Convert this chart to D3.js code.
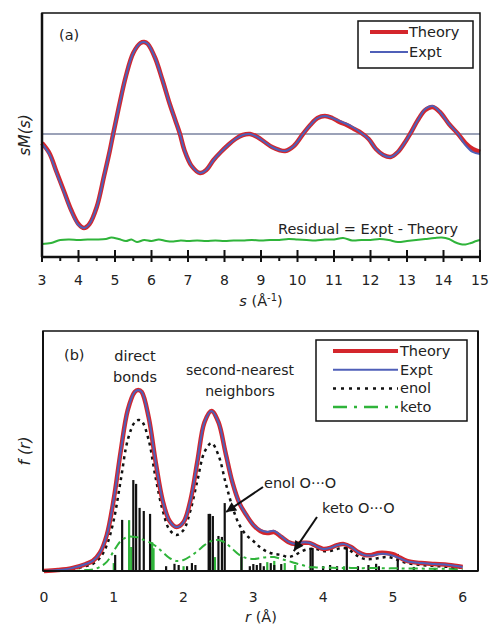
<!DOCTYPE html>
<html>
<head>
<meta charset="utf-8">
<script src="https://cdn.jsdelivr.net/npm/d3@7"></script>
<style>
  body { margin: 0; background: #fff; }
  text { font-family: "DejaVu Sans", sans-serif; fill: #222; }
</style>
</head>
<body>
<script>
// ---- panel (a): sM(s) ----
var sVals = [3.0,3.2,3.4,3.6,3.8,4.0,4.15,4.3,4.5,4.7,4.85,4.95,5.1,5.3,5.5,5.7,5.8,5.9,6.1,6.3,6.5,6.65,6.78,6.9,7.1,7.33,7.5,7.7,7.9,8.1,8.3,8.5,8.7,8.9,9.1,9.3,9.5,9.66,9.9,10.15,10.35,10.55,10.75,10.95,11.15,11.35,11.55,11.75,11.95,12.15,12.35,12.55,12.75,12.95,13.1,13.3,13.5,13.7,13.9,14.15,14.4,14.6,14.8,15.0];
var theoryA = [-0.09,-0.19,-0.38,-0.57,-0.76,-0.90,-0.94,-0.90,-0.73,-0.42,-0.18,0.00,0.26,0.58,0.81,0.91,0.92,0.90,0.76,0.54,0.30,0.14,0.00,-0.16,-0.32,-0.39,-0.36,-0.26,-0.18,-0.11,-0.05,-0.01,0.00,-0.03,-0.08,-0.13,-0.16,-0.17,-0.12,0.00,0.09,0.16,0.18,0.16,0.12,0.09,0.05,0.01,-0.05,-0.15,-0.21,-0.23,-0.18,-0.08,0.01,0.14,0.24,0.27,0.22,0.10,0.00,-0.09,-0.15,-0.18];
var exptA   = [-0.10,-0.20,-0.39,-0.58,-0.77,-0.91,-0.94,-0.90,-0.73,-0.42,-0.18,0.00,0.26,0.58,0.81,0.91,0.92,0.90,0.76,0.54,0.30,0.14,0.00,-0.16,-0.32,-0.39,-0.36,-0.26,-0.18,-0.11,-0.05,-0.01,0.00,-0.03,-0.08,-0.13,-0.16,-0.17,-0.12,0.00,0.09,0.16,0.18,0.16,0.13,0.10,0.06,0.01,-0.05,-0.15,-0.21,-0.23,-0.18,-0.08,0.01,0.14,0.25,0.28,0.22,0.10,0.00,-0.11,-0.18,-0.20];
var residS = [3.0,3.25,3.5,3.75,4.0,4.25,4.5,4.75,4.9,5.1,5.3,5.45,5.6,5.8,6.0,6.2,6.4,6.6,6.8,7.0,7.25,7.5,7.75,8.0,8.25,8.5,8.75,9.0,9.25,9.5,9.75,10.0,10.25,10.5,10.75,11.0,11.25,11.5,11.75,12.0,12.25,12.5,12.75,13.0,13.25,13.5,13.75,13.95,14.15,14.3,14.45,14.6,14.75,14.9,15.0];
var residA = [-1.10,-1.09,-1.06,-1.055,-1.06,-1.055,-1.055,-1.05,-1.035,-1.05,-1.07,-1.055,-1.08,-1.06,-1.07,-1.055,-1.07,-1.075,-1.065,-1.07,-1.065,-1.07,-1.065,-1.07,-1.065,-1.065,-1.06,-1.065,-1.06,-1.06,-1.05,-1.055,-1.06,-1.065,-1.055,-1.055,-1.04,-1.065,-1.06,-1.06,-1.05,-1.06,-1.08,-1.07,-1.06,-1.05,-1.04,-1.035,-1.05,-1.08,-1.10,-1.105,-1.09,-1.07,-1.06];
var sTicks = [3,4,5,6,7,8,9,10,11,12,13,14,15];

// ---- panel (b): f(r) ----
var rVals = [0.0,0.2,0.4,0.6,0.7,0.8,0.9,1.0,1.1,1.2,1.3,1.35,1.4,1.5,1.6,1.7,1.8,1.9,2.0,2.1,2.2,2.3,2.4,2.5,2.6,2.7,2.8,2.9,3.0,3.1,3.2,3.3,3.4,3.5,3.6,3.7,3.8,3.9,4.0,4.1,4.2,4.3,4.4,4.5,4.6,4.7,4.8,4.9,5.0,5.1,5.2,5.4,5.6,5.8,6.0];
var theoryB = [0,0.004,0.012,0.029,0.042,0.075,0.15,0.30,0.50,0.67,0.746,0.754,0.746,0.64,0.455,0.295,0.208,0.183,0.204,0.296,0.46,0.62,0.667,0.62,0.495,0.37,0.283,0.233,0.192,0.167,0.158,0.162,0.142,0.121,0.112,0.117,0.117,0.104,0.092,0.096,0.108,0.112,0.10,0.079,0.067,0.067,0.075,0.075,0.070,0.056,0.042,0.033,0.029,0.025,0.017];
var exptB   = [0,0.004,0.012,0.029,0.042,0.075,0.15,0.30,0.50,0.67,0.746,0.754,0.746,0.64,0.455,0.295,0.208,0.183,0.204,0.296,0.46,0.62,0.667,0.62,0.495,0.37,0.283,0.233,0.192,0.170,0.163,0.167,0.145,0.122,0.113,0.119,0.118,0.104,0.092,0.096,0.107,0.112,0.10,0.079,0.066,0.065,0.071,0.071,0.064,0.053,0.041,0.033,0.029,0.025,0.017];
var enolB   = [0,0.002,0.008,0.021,0.03,0.054,0.108,0.213,0.379,0.546,0.62,0.629,0.625,0.546,0.388,0.254,0.171,0.15,0.171,0.254,0.379,0.496,0.533,0.483,0.371,0.267,0.192,0.15,0.125,0.098,0.08,0.071,0.067,0.058,0.067,0.083,0.092,0.092,0.083,0.083,0.092,0.096,0.083,0.062,0.05,0.05,0.054,0.058,0.054,0.042,0.033,0.025,0.021,0.017,0.013];
var ketoB   = [0,0,0,0.004,0.006,0.017,0.038,0.083,0.125,0.142,0.142,0.140,0.133,0.121,0.104,0.079,0.054,0.042,0.046,0.062,0.083,0.108,0.125,0.129,0.117,0.092,0.067,0.054,0.05,0.054,0.058,0.058,0.05,0.042,0.033,0.025,0.017,0.015,0.015,0.014,0.013,0.013,0.013,0.012,0.012,0.012,0.012,0.011,0.011,0.011,0.01,0.01,0.009,0.009,0.008];
var enolStickR = [1.02,1.12,1.28,1.32,1.37,1.43,1.52,1.75,1.87,1.93,2.05,2.12,2.17,2.36,2.38,2.42,2.50,2.55,2.59,2.83,2.95,3.00,3.05,3.10,3.15,3.25,3.30,3.40,3.82,3.85,4.00,4.10,4.20,4.34,4.50,4.65,4.76,4.80,5.07,5.30,5.60];
var enolStickF = [0.067,0.213,0.379,0.363,0.263,0.25,0.238,0.02,0.03,0.025,0.02,0.033,0.025,0.238,0.238,0.229,0.146,0.142,0.283,0.167,0.02,0.029,0.025,0.033,0.02,0.033,0.025,0.029,0.096,0.096,0.02,0.025,0.02,0.108,0.02,0.025,0.03,0.02,0.071,0.017,0.013];
var ketoStickR = [1.00,1.22,1.25,1.55,1.57,2.00,2.38,2.45,2.83,3.20,3.30,3.45,3.60,4.30];
var ketoStickF = [0.033,0.212,0.10,0.12,0.095,0.02,0.10,0.058,0.058,0.037,0.042,0.033,0.025,0.02];
var rTicks = [0,1,2,3,4,5,6];

var W = 490, H = 625;
var svg = d3.select("body").append("svg").attr("width", W).attr("height", H);

var red = "#d4262c", blue = "#4f5fb8", green = "#2fb43a";
var fs = 14.5;

// ===== panel (a) =====
var xA = d3.scaleLinear().domain([3, 15]).range([42, 480]);
var yA = d3.scaleLinear().domain([-1.23, 1.21]).range([257, 13]);

var lineA = d3.line().x(function(d){ return xA(d[0]); }).y(function(d){ return yA(d[1]); }).curve(d3.curveCatmullRom);

svg.append("line")
   .attr("x1", xA(3)).attr("x2", xA(15))
   .attr("y1", yA(0)).attr("y2", yA(0))
   .attr("stroke", "#9ba2b8").attr("stroke-width", 2);

svg.append("path")
   .attr("d", lineA(d3.zip(residS, residA)))
   .attr("fill", "none").attr("stroke", green).attr("stroke-width", 2);
svg.append("path")
   .attr("d", lineA(d3.zip(sVals, theoryA)))
   .attr("fill", "none").attr("stroke", red).attr("stroke-width", 4.5);
svg.append("path")
   .attr("d", lineA(d3.zip(sVals, exptA)))
   .attr("fill", "none").attr("stroke", blue).attr("stroke-width", 2);

// frame
svg.append("rect").attr("x", 42).attr("y", 13).attr("width", 438).attr("height", 244)
   .attr("fill", "none").attr("stroke", "#111").attr("stroke-width", 1.5);
svg.append("line").attr("x1", 42).attr("x2", 42).attr("y1", 13).attr("y2", 257)
   .attr("stroke", "#111").attr("stroke-width", 2.5);
svg.append("line").attr("x1", 42).attr("x2", 480).attr("y1", 257).attr("y2", 257)
   .attr("stroke", "#111").attr("stroke-width", 2.5);

// ticks (majors cross the axis, minors below)
sTicks.forEach(function(t){
  svg.append("line").attr("x1", xA(t)).attr("x2", xA(t)).attr("y1", 250).attr("y2", 262)
     .attr("stroke", "#111").attr("stroke-width", 2);
  svg.append("text").attr("x", xA(t)).attr("y", 285).attr("text-anchor", "middle")
     .attr("font-size", 14).text(t);
  if (t < 15) {
    svg.append("line").attr("x1", xA(t + 0.5)).attr("x2", xA(t + 0.5)).attr("y1", 257).attr("y2", 261)
       .attr("stroke", "#111").attr("stroke-width", 2);
  }
});

var xl = svg.append("text").attr("x", 261).attr("y", 306).attr("text-anchor", "middle").attr("font-size", fs);
xl.append("tspan").attr("font-style", "italic").text("s");
xl.append("tspan").text(" (Å");
xl.append("tspan").attr("font-size", 10).attr("dy", -5).text("-1");
xl.append("tspan").attr("dy", 5).text(")");

svg.append("text").attr("transform", "translate(30,135) rotate(-90)")
   .attr("text-anchor", "middle").attr("font-size", 15.5).attr("font-style", "italic").text("sM(s)");

svg.append("text").attr("x", 59).attr("y", 40).attr("font-size", fs).text("(a)");
svg.append("text").attr("x", 278).attr("y", 234).attr("font-size", 14.5).text("Residual = Expt - Theory");

// legend (a)
var lgA = svg.append("g");
lgA.append("rect").attr("x", 358).attr("y", 21).attr("width", 115).attr("height", 47)
   .attr("fill", "#fff").attr("stroke", "#111").attr("stroke-width", 1.5);
lgA.append("line").attr("x1", 370).attr("x2", 408).attr("y1", 32).attr("y2", 32).attr("stroke", red).attr("stroke-width", 4);
lgA.append("line").attr("x1", 370).attr("x2", 408).attr("y1", 52).attr("y2", 52).attr("stroke", blue).attr("stroke-width", 2);
lgA.append("text").attr("x", 409).attr("y", 37).attr("font-size", fs).text("Theory");
lgA.append("text").attr("x", 409).attr("y", 57).attr("font-size", fs).text("Expt");

// ===== panel (b) =====
var xB = d3.scaleLinear().domain([0, 6.22]).range([44, 478]);
var yB = d3.scaleLinear().domain([0, 1]).range([571, 331]);
var lineB = d3.line().x(function(d){ return xB(d[0]); }).y(function(d){ return yB(d[1]); }).curve(d3.curveCatmullRom);

svg.selectAll("line.ks").data(d3.zip(ketoStickR, ketoStickF)).enter().append("line")
   .attr("class", "ks")
   .attr("x1", function(d){ return xB(d[0]); }).attr("x2", function(d){ return xB(d[0]); })
   .attr("y1", yB(0)).attr("y2", function(d){ return yB(d[1]); })
   .attr("stroke", green).attr("stroke-width", 2.2);
svg.selectAll("line.es").data(d3.zip(enolStickR, enolStickF)).enter().append("line")
   .attr("class", "es")
   .attr("x1", function(d){ return xB(d[0]); }).attr("x2", function(d){ return xB(d[0]); })
   .attr("y1", yB(0)).attr("y2", function(d){ return yB(d[1]); })
   .attr("stroke", "#111").attr("stroke-width", 2.2);

svg.append("path").attr("d", lineB(d3.zip(rVals, ketoB)))
   .attr("fill", "none").attr("stroke", green).attr("stroke-width", 2)
   .attr("stroke-dasharray", "9,4,3,4");
svg.append("path").attr("d", lineB(d3.zip(rVals, enolB)))
   .attr("fill", "none").attr("stroke", "#111").attr("stroke-width", 2.5)
   .attr("stroke-dasharray", "3,4");
svg.append("path").attr("d", lineB(d3.zip(rVals, theoryB)))
   .attr("fill", "none").attr("stroke", red).attr("stroke-width", 4.5);
svg.append("path").attr("d", lineB(d3.zip(rVals, exptB)))
   .attr("fill", "none").attr("stroke", blue).attr("stroke-width", 2);

svg.append("rect").attr("x", 43).attr("y", 331).attr("width", 435).attr("height", 240)
   .attr("fill", "none").attr("stroke", "#111").attr("stroke-width", 1.5);
svg.append("line").attr("x1", 43).attr("x2", 43).attr("y1", 331).attr("y2", 571)
   .attr("stroke", "#111").attr("stroke-width", 2);
svg.append("line").attr("x1", 478).attr("x2", 478).attr("y1", 331).attr("y2", 571)
   .attr("stroke", "#111").attr("stroke-width", 2);
svg.append("line").attr("x1", 43).attr("x2", 478).attr("y1", 571).attr("y2", 571)
   .attr("stroke", "#111").attr("stroke-width", 2);

rTicks.forEach(function(t){
  svg.append("text").attr("x", xB(t)).attr("y", 602).attr("text-anchor", "middle")
     .attr("font-size", 14).text(t);
});
var rl = svg.append("text").attr("x", 261).attr("y", 622).attr("text-anchor", "middle").attr("font-size", fs);
rl.append("tspan").attr("font-style", "italic").text("r");
rl.append("tspan").text(" (Å)");

svg.append("text").attr("transform", "translate(30,451) rotate(-90)")
   .attr("text-anchor", "middle").attr("font-size", 15.5).attr("font-style", "italic").text("f (r)");

svg.append("text").attr("x", 64).attr("y", 360).attr("font-size", fs).text("(b)");
svg.append("text").attr("x", 135).attr("y", 361).attr("text-anchor", "middle").attr("font-size", fs).text("direct");
svg.append("text").attr("x", 135).attr("y", 382).attr("text-anchor", "middle").attr("font-size", fs).text("bonds");
svg.append("text").attr("x", 240).attr("y", 375).attr("text-anchor", "middle").attr("font-size", 14).text("second-nearest");
svg.append("text").attr("x", 240).attr("y", 396).attr("text-anchor", "middle").attr("font-size", 14).text("neighbors");

// annotations with arrows
svg.append("defs").append("marker").attr("id", "ah")
   .attr("viewBox", "0 0 10 10").attr("refX", 10).attr("refY", 5)
   .attr("markerWidth", 6).attr("markerHeight", 5).attr("orient", "auto")
   .attr("markerUnits", "strokeWidth")
   .append("path").attr("d", "M0,0 L10,5 L0,10 z").attr("fill", "#111");

svg.append("line").attr("x1", 263).attr("y1", 487).attr("x2", xB(2.61)).attr("y2", yB(0.246))
   .attr("stroke", "#111").attr("stroke-width", 2).attr("marker-end", "url(#ah)");
svg.append("text").attr("x", 264).attr("y", 488).attr("font-size", fs).text("enol O···O");

svg.append("line").attr("x1", 317).attr("y1", 517).attr("x2", xB(3.58)).attr("y2", yB(0.083))
   .attr("stroke", "#111").attr("stroke-width", 2).attr("marker-end", "url(#ah)");
svg.append("text").attr("x", 322).attr("y", 513).attr("font-size", fs).text("keto O···O");

// legend (b)
var lgB = svg.append("g");
lgB.append("rect").attr("x", 316).attr("y", 340).attr("width", 151).attr("height", 81)
   .attr("fill", "#fff").attr("stroke", "#111").attr("stroke-width", 1.5);
var lgItems = [
  {name: "Theory", color: red, w: 4, dash: null},
  {name: "Expt", color: blue, w: 2, dash: null},
  {name: "enol", color: "#111", w: 2.5, dash: "3,5"},
  {name: "keto", color: green, w: 2.5, dash: "14,7,3,7"}
];
lgItems.forEach(function(it, i){
  var yy = 351 + i * 18.7;
  var ln = lgB.append("line").attr("x1", 333).attr("x2", 398).attr("y1", yy).attr("y2", yy)
     .attr("stroke", it.color).attr("stroke-width", it.w);
  if (it.dash) ln.attr("stroke-dasharray", it.dash);
  lgB.append("text").attr("x", 400).attr("y", yy + 5).attr("font-size", fs).text(it.name);
});
</script>
</body>
</html>
